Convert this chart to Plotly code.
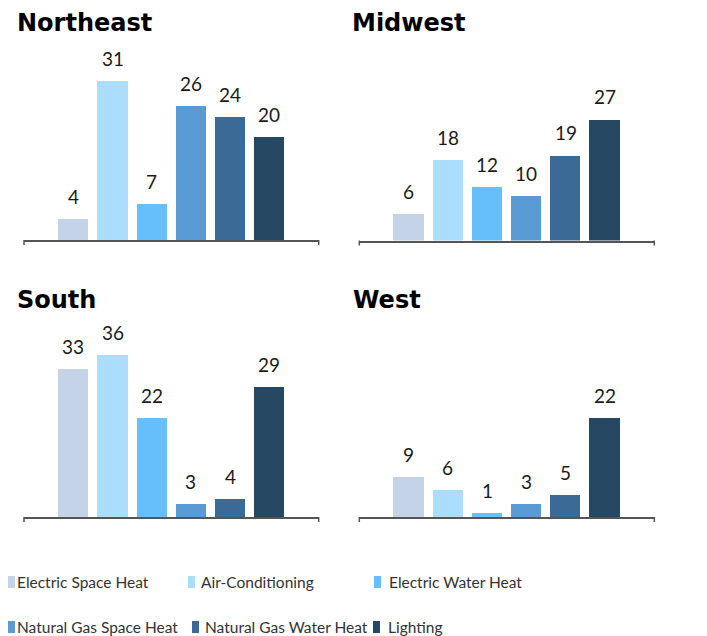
import plotly.graph_objects as go

categories = ["Electric Space Heat", "Air-Conditioning", "Electric Water Heat",
              "Natural Gas Space Heat", "Natural Gas Water Heat", "Lighting"]
regions = ["Northeast", "Midwest", "South", "West"]
northeast = [4, 31, 7, 26, 24, 20]
midwest = [6, 18, 12, 10, 19, 27]
south = [33, 36, 22, 3, 4, 29]
west = [9, 6, 1, 3, 5, 22]
values = [northeast, midwest, south, west]
colors = ["#c5d3e9", "#abdefc", "#66bffb", "#5b9bd5", "#3b6a97", "#274862"]

# the page body adds an 8px margin; size the figure to fit the 707x636 window
OFF = 8
W, H = 707 - OFF, 636 - OFF
def py(px):
    return 1 - (px - OFF) / H
def pxx(px):
    return (px - OFF) / W

# panel geometry (window pixels): left, right, baseline, top, y max
panels = [
    (24, 318.7, 240, 60, 35),
    (359.3, 654.3, 240.5, 60.5, 40),
    (24, 318.7, 517, 337, 40),
    (359.3, 654.3, 517, 337, 40),
]
title_pos = [(15, 23), (350, 23), (15, 300), (351, 300)]
# legend layout (window pixels): square left, text left, row centre
legend_pos = [(8, 15, 582), (188, 199, 582), (374, 387, 582),
              (8, 15, 627), (192, 203, 627), (373, 386, 627)]

fig = go.Figure()
layout = dict(
    width=W, height=H, margin=dict(l=0, r=0, t=0, b=0),
    paper_bgcolor="white", plot_bgcolor="white",
    font=dict(family="Lato, Carlito, sans-serif", color="#222"),
    bargap=0, showlegend=False,
)
annotations = []
shapes = []
for r, (name, vals) in enumerate(zip(regions, values)):
    xa = "x" if r == 0 else f"x{r+1}"
    ya = "y" if r == 0 else f"y{r+1}"
    left, right, base, top, ymax = panels[r]
    for i, (cat, v) in enumerate(zip(categories, vals)):
        fig.add_trace(go.Bar(
            x=[cat], y=[v], name=cat, marker=dict(color=colors[i], line=dict(width=0)),
            width=0.77, xaxis=xa, yaxis=ya, legendgroup=cat,
            hovertemplate=f"{name}<br>%{{x}}: %{{y}}<extra></extra>",
        ))
        annotations.append(dict(
            x=cat, y=v, xref=xa, yref=ya, text=str(v), showarrow=False,
            yanchor="bottom", yshift=9, font=dict(size=19, color="#1a1a1a"),
        ))
    key = "" if r == 0 else str(r + 1)
    layout["xaxis" + key] = dict(
        domain=[pxx(left), pxx(right)], range=[-1.26, 6.26], anchor=ya,
        type="category", categoryorder="array", categoryarray=categories,
        showticklabels=False, ticks="", showgrid=False, zeroline=False,
        showline=True, linecolor="#555", linewidth=1.5, fixedrange=True,
    )
    layout["yaxis" + key] = dict(
        domain=[py(base), py(top)], range=[0, ymax], anchor=xa,
        showticklabels=False, ticks="", showgrid=False, zeroline=False,
        showline=False, fixedrange=True,
    )
    for xd in (0, 1):
        shapes.append(dict(
            type="line", xref=f"{xa} domain", yref="paper",
            x0=xd, x1=xd, y0=py(base), y1=py(base + 5),
            line=dict(color="#555", width=1.5),
        ))
    tx, ty = title_pos[r]
    annotations.append(dict(
        x=pxx(tx), y=py(ty), xref="paper", yref="paper", text=f"<b>{name}</b>",
        showarrow=False, xanchor="left", yanchor="middle",
        font=dict(size=24, color="black", family="DejaVu Sans"),
    ))

# legend drawn as coloured squares with labels
for i, cat in enumerate(categories):
    sx, tx, cy = legend_pos[i]
    shapes.append(dict(
        type="rect", xref="paper", yref="paper",
        x0=pxx(sx), x1=pxx(sx + 7), y0=py(cy - 6), y1=py(cy + 6),
        fillcolor=colors[i], line=dict(width=0),
    ))
    annotations.append(dict(
        x=pxx(tx), y=py(cy), xref="paper", yref="paper", text=cat,
        showarrow=False, xanchor="left", yanchor="middle",
        font=dict(size=15.5, color="#333"),
    ))

layout["annotations"] = annotations
layout["shapes"] = shapes
fig.update_layout(**layout)
fig.write_html("out.html", config={"displayModeBar": False})
